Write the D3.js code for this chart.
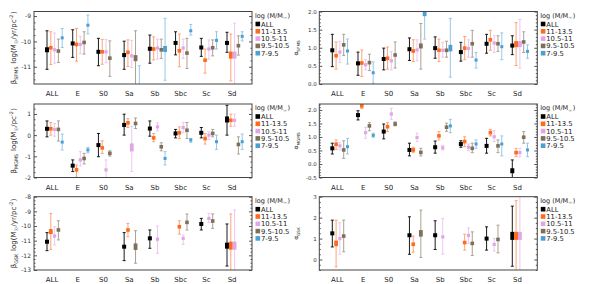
<!DOCTYPE html>
<html>
<head>
<meta charset="utf-8">
<script src="https://cdn.jsdelivr.net/npm/d3@7"></script>
<style>
  body { margin: 0; background: #fff; }
  svg { font-family: "DejaVu Sans", sans-serif; }
</style>
</head>
<body>
<svg id="chart" width="589" height="284"></svg>
<script>
// ── data ─────────────────────────────────────────────────────────────────────
const categories  = ["ALL", "E", "S0", "Sa", "Sb", "Sbc", "Sc", "Sd"];
const seriesNames = ["ALL", "11-13.5", "10.5-11", "9.5-10.5", "7-9.5"];

// each cell: [value, upper, lower] for series ALL, 11-13.5, 10.5-11, 9.5-10.5, 7-9.5
const betaSFMS = [
  [[-10.33, -9.58, -11.10], [-10.25, -9.62, -10.91], [-10.33, -9.67, -10.86], [-10.38, -9.91, -10.83], [-9.86, -9.49, -10.24]],
  [[-10.08, -9.54, -10.63], [-10.12, -9.49, -10.78], [-10.12, -9.80, -10.48], [-10.04, -9.62, -10.50], [-9.36, -8.96, -9.70]],
  [[-10.41, -9.88, -10.96], [-10.41, -9.92, -10.90], [-10.41, -9.92, -10.84], [-10.66, -9.98, -11.38], null],
  [[-10.54, -9.99, -11.10], [-10.43, -9.94, -10.99], [-10.57, -9.96, -11.03], [-10.66, -9.58, -12.20], [-12.10, -10.96, -13.00]],
  [[-10.29, -9.75, -10.86], [-10.30, -9.82, -10.73], [-10.26, -9.91, -10.70], [-10.33, -9.91, -10.67], [-10.30, -9.09, -11.53]],
  [[-10.06, -9.62, -10.53], [-10.37, -9.71, -11.00], [-10.26, -9.91, -10.67], [-10.46, -9.88, -11.07], [-9.58, -9.33, -9.75]],
  [[-10.24, -9.88, -10.59], [-10.74, -10.30, -11.25], [-10.30, -9.94, -10.70], [-10.25, -9.94, -10.57], [-9.96, -9.62, -10.30]],
  [[-10.06, -9.64, -10.43], [-10.54, -9.71, -11.56], [-10.54, -9.28, -12.00], [-10.17, -9.78, -10.54], [-9.80, -9.62, -9.98]]
];

const alphaSFMS = [
  [[0.93, 1.37, 0.48], [0.78, 1.16, 0.41], [0.88, 1.18, 0.59], [1.08, 1.37, 0.79], [0.91, 1.24, 0.55]],
  [[0.57, 0.88, 0.24], [0.58, 0.94, 0.21], [0.53, 0.67, 0.39], [0.59, 0.82, 0.37], [0.31, 0.61, 0.02]],
  [[0.69, 0.99, 0.39], [0.71, 1.02, 0.41], [0.64, 0.90, 0.39], [0.80, 1.16, 0.44], null],
  [[0.96, 1.27, 0.65], [0.91, 1.22, 0.62], [0.94, 1.22, 0.64], [1.05, 1.67, 0.41], [1.94, 2.20, 1.24]],
  [[0.99, 1.30, 0.71], [0.93, 1.24, 0.62], [0.93, 1.15, 0.74], [0.93, 1.18, 0.74], [0.99, 1.81, 0.19]],
  [[0.88, 1.15, 0.63], [0.99, 1.31, 0.67], [0.98, 1.22, 0.74], [1.11, 1.48, 0.74], [0.66, 0.87, 0.44]],
  [[1.11, 1.37, 0.85], [1.22, 1.48, 0.93], [1.13, 1.33, 0.87], [1.11, 1.33, 0.90], [1.03, 1.41, 0.67]],
  [[1.06, 1.33, 0.81], [1.10, 1.69, 0.51], [1.10, 1.78, 0.44], [1.16, 1.44, 0.87], [0.90, 1.08, 0.71]]
];

const betaMGMS = [
  [[0.30, 0.67, -0.08], [0.30, 0.60, 0.00], [0.27, 0.55, -0.05], [0.27, 0.67, -0.28], [-0.33, 0.05, -0.70]],
  [[-1.44, -1.17, -1.72], [-1.64, -1.41, -1.99], [-1.17, -0.78, -1.46], [-1.10, -0.86, -1.36], [-0.70, -0.58, -0.83]],
  [[-0.47, 0.08, -1.02], [-0.60, -0.27, -0.86], [-1.64, -1.17, -2.10], [-0.86, -0.74, -0.99], null],
  [[0.48, 0.99, 0.00], [0.58, 0.78, 0.36], [-0.58, 0.42, -1.72], [0.55, 0.81, 0.31], null],
  [[0.31, 0.67, -0.05], [-0.13, 0.08, -0.31], [0.39, 0.58, 0.20], [-0.55, -0.36, -0.74], [-1.10, -0.78, -1.41]],
  [[0.08, 0.27, -0.13], [0.11, 0.39, -0.16], [0.36, 0.60, 0.11], [0.23, 0.60, -0.16], [-0.23, -0.16, -0.34]],
  [[0.11, 0.36, -0.13], [-0.16, 0.08, -0.42], [0.00, 0.16, -0.20], [0.08, 0.27, -0.08], [-0.31, 0.00, -0.67]],
  [[0.74, 1.41, 0.00], [0.70, 0.99, 0.42], [0.70, 0.99, 0.42], [-0.44, -0.08, -0.89], [-0.31, 0.05, -0.67]]
];

const alphaMGMS = [
  [[0.58, 0.77, 0.37], [0.73, 0.89, 0.54], [0.67, 0.79, 0.52], [0.52, 0.86, 0.21], [0.64, 0.95, 0.37]],
  [[1.81, 1.97, 1.63], [2.15, 2.22, 2.05], [1.16, 1.36, 0.95], [1.41, 1.53, 1.23], [1.06, 1.14, 0.99]],
  [[1.20, 1.48, 0.93], [1.38, 1.53, 1.20], [1.85, 2.06, 1.65], [1.48, 1.56, 1.41], null],
  [[0.52, 0.77, 0.30], [0.52, 0.62, 0.42], [0.98, 1.14, 0.83], [0.43, 0.58, 0.30], null],
  [[0.62, 0.85, 0.40], [1.04, 1.20, 0.89], [0.60, 0.69, 0.52], [1.36, 1.51, 1.21], [1.41, 1.65, 1.16]],
  [[0.74, 0.86, 0.62], [0.83, 1.01, 0.64], [0.62, 0.74, 0.49], [0.58, 0.77, 0.42], [0.74, 0.89, 0.58]],
  [[0.67, 0.95, 0.40], [1.16, 1.28, 1.04], [1.01, 1.23, 0.83], [0.67, 0.89, 0.42], [0.74, 1.04, 0.30]],
  [[-0.25, 0.15, -0.60], [0.42, 0.58, 0.27], [0.42, 0.58, 0.27], [0.99, 1.20, 0.77], [0.52, 0.77, 0.27]]
];

const betaGSK = [
  [[-11.07, -10.45, -11.68], [-10.38, -9.14, -11.59], [-10.68, -10.05, -11.29], [-10.27, -9.64, -10.95], null],
  [null, null, null, null, null],
  [null, null, null, null, null],
  [[-11.41, -10.45, -12.36], [-10.27, -9.82, -10.73], null, [-11.41, -10.32, -12.54], null],
  [[-10.84, -10.27, -11.52], null, [-10.90, -10.00, -11.86], null, null],
  [null, [-10.05, -9.64, -10.55], [-10.84, -10.61, -11.25], [-9.75, -9.18, -10.27], null],
  [[-9.86, -9.48, -10.27], null, [-9.48, -9.14, -9.77], [-9.66, -9.18, -10.16], null],
  [[-11.34, -9.86, -12.73], [-11.34, -9.18, -13.30], [-11.34, -8.90, -13.30], null, null]
];

const alphaGSK = [
  [[1.25, 1.88, 0.60], [0.77, 1.88, -0.35], [1.00, 1.76, 0.25], [1.12, 1.88, 0.37], null],
  [null, null, null, null, null],
  [null, null, null, null, null],
  [[1.16, 2.04, 0.25], [0.73, 1.12, 0.35], null, [1.25, 2.36, 0.10], null],
  [[1.16, 1.85, 0.48], null, [1.08, 1.96, 0.25], null, null],
  [null, [0.81, 1.21, 0.45], [1.15, 1.51, 0.77], [0.77, 1.32, 0.19], null],
  [[1.00, 1.56, 0.45], null, [0.72, 1.00, 0.41], [0.96, 1.64, 0.32], null],
  [[1.13, 2.55, -0.32], [1.13, 2.81, -0.60], [1.13, 3.20, -0.60], null, null]
];

// ── style ────────────────────────────────────────────────────────────────────
const markColors = ["#000000", "#ff6a1c", "#e2a6e6", "#7d6f5c", "#4a9fd4"];
const barColors  = ["#000000", "#ffa476", "#ecc7ef", "#aaa194", "#96c8e8"];
const markW      = [4, 3.6, 3.2, 3.6, 3];
// taller boxes for the larger samples
const tallMarks = {
  betaSFMS:  { "ALL|0": 5, "Sa|3": 6, "Sb|4": 6, "Sd|1": 7, "Sd|2": 7 },
  alphaSFMS: { "Sa|3": 5, "Sa|4": 5, "Sb|4": 6.5, "Sd|1": 6, "Sd|2": 6 },
  betaMGMS:  { "Sa|2": 8, "Sd|0": 6 },
  alphaMGMS: { "Sd|0": 5 },
  betaGSK:   { "ALL|1": 5, "Sa|3": 6.5, "Sd|0": 6, "Sd|1": 8, "Sd|2": 8 },
  alphaGSK:  { "ALL|1": 5.5, "Sa|3": 6.5, "Sd|0": 8, "Sd|1": 8, "Sd|2": 8 }
};

const svg     = d3.select("#chart");
const colLeft = [34, 319.3];
const frameW  = 218;
const rowsY   = [[11.5, 84], [104, 177.5], [196.7, 270]];

const fix1 = d => d.toFixed(1).replace("\u2212", "-");
const int  = d => String(d);

const panels = [
  { id: "betaSFMS",  data: betaSFMS,  col: 0, row: 0, domain: [-11.68, -8.82], major: [-11, -10, -9],  minor: 0.25, fmt: int,
    label: [["β"], ["SFMS", "sub"], [" log(M"], ["☉", "sub"], ["/yr/pc"], ["-2", "sup"], [")"]] },
  { id: "alphaSFMS", data: alphaSFMS, col: 1, row: 0, domain: [0, 2],          major: [0, 0.5, 1, 1.5, 2], minor: 0.1, fmt: fix1,
    label: [["α"], ["SFMS", "sub"]] },
  { id: "betaMGMS",  data: betaMGMS,  col: 0, row: 1, domain: [-2, 1.47],      major: [-2, -1, 0, 1],  minor: 0.25, fmt: int,
    label: [["β"], ["MGMS", "sub"], [" log(M"], ["☉", "sub"], ["/pc"], ["-2", "sup"], [")"]] },
  { id: "alphaMGMS", data: alphaMGMS, col: 1, row: 1, domain: [-0.5, 2.22],    major: [-0.5, 0, 0.5, 1, 1.5, 2], minor: 0.1, fmt: fix1,
    label: [["α"], ["MGMS", "sub"]] },
  { id: "betaGSK",   data: betaGSK,   col: 0, row: 2, domain: [-13, -8],       major: [-13, -12, -11, -10, -9, -8], minor: 0.25, fmt: int,
    label: [["β"], ["GSK", "sub"], [" log(M"], ["☉", "sub"], ["/yr/pc"], ["-2", "sup"], [")"]] },
  { id: "alphaGSK",  data: alphaGSK,  col: 1, row: 2, domain: [-0.5, 3],       major: [0, 1, 2, 3], minor: 0.25, fmt: int,
    label: [["α"], ["GSK", "sub"]] }
];

const x  = d3.scalePoint().domain(categories).range([20.6, 200.6]);
const xs = d3.scalePoint().domain(d3.range(seriesNames.length)).range([-7.6, 7.6]);

function richText(sel, parts, size) {
  parts.forEach(([t, kind]) => {
    const ts = sel.append("tspan").text(t);
    if (kind === "sub") ts.attr("font-size", size * 0.7).attr("dy", size * 0.25);
    if (kind === "sup") ts.attr("font-size", size * 0.7).attr("dy", -size * 0.45);
    if (kind) sel.append("tspan").attr("font-size", size * 0.7).attr("dy", kind === "sub" ? -size * 0.25 : size * 0.45).text("\u200a");
  });
}

panels.forEach(p => {
  const [top, bottom] = rowsY[p.row];
  const left = colLeft[p.col];
  const h = bottom - top;
  const g = svg.append("g").attr("transform", `translate(${left},${top})`);
  const y = d3.scaleLinear().domain(p.domain).range([h, 0]);

  // ticks, inward on both sides
  const minorVals = d3.range(Math.ceil(p.domain[0] / p.minor) * p.minor, p.domain[1] + 1e-9, p.minor)
    .filter(v => !p.major.some(m => Math.abs(m - v) < 1e-6));
  const styleAxis = a => { a.select(".domain").remove(); a.selectAll("line").attr("stroke", "#555"); };
  g.append("g").call(d3.axisLeft(y).tickValues(minorVals).tickSize(-1.5).tickFormat("")).call(styleAxis);
  g.append("g").attr("transform", `translate(${frameW},0)`).call(d3.axisRight(y).tickValues(minorVals).tickSize(-1.5).tickFormat("")).call(styleAxis);
  g.append("g").attr("transform", `translate(${frameW},0)`).call(d3.axisRight(y).tickValues(p.major).tickSize(-3).tickFormat("")).call(styleAxis);
  g.append("g").call(d3.axisLeft(y).tickValues(p.major).tickSize(-3).tickPadding(p.col ? 2.5 : 3).tickFormat(p.fmt))
    .call(styleAxis)
    .call(a => a.selectAll("text").attr("font-size", p.col ? 5.5 : 6).attr("font-family", "DejaVu Sans").attr("fill", "#333"));

  // category labels
  g.append("g").selectAll("text").data(categories).join("text")
    .attr("x", d => x(d) - 2.5).attr("y", h + 12).attr("text-anchor", "middle")
    .attr("font-size", 7).attr("fill", "#222").text(d => d);

  // marks, clipped to the frame
  const clipId = "clip-" + p.id;
  g.append("clipPath").attr("id", clipId).append("rect").attr("width", frameW).attr("height", h);
  const marks = g.append("g").attr("clip-path", `url(#${clipId})`);
  const points = [];
  p.data.forEach((row, ci) => row.forEach((d, si) => {
    if (d) points.push({ cat: categories[ci], s: si, v: d[0], hi: d[1], lo: d[2] });
  }));
  // draw coloured series first, black on top
  points.sort((a, b) => (b.s === 0) - (a.s === 0) || a.s - b.s);

  const px = d => x(d.cat) + xs(d.s);
  const bars = marks.selectAll("g.err").data(points).join("g").attr("class", "err")
    .attr("stroke", d => barColors[d.s]).attr("stroke-width", d => d.s === 0 ? 0.9 : 1);
  bars.append("line").attr("x1", px).attr("x2", px).attr("y1", d => y(d.hi)).attr("y2", d => y(d.lo));
  bars.append("line").attr("x1", d => px(d) - 1.5).attr("x2", d => px(d) + 1.5).attr("y1", d => y(d.hi)).attr("y2", d => y(d.hi));
  bars.append("line").attr("x1", d => px(d) - 1.5).attr("x2", d => px(d) + 1.5).attr("y1", d => y(d.lo)).attr("y2", d => y(d.lo));

  const tall = tallMarks[p.id];
  marks.selectAll("rect.mark").data(points).join("rect").attr("class", "mark")
    .each(function (d) {
      const hh = tall[d.cat + "|" + d.s];
      const w = hh ? Math.max(markW[d.s], 3.8) : markW[d.s];
      const hgt = hh || markW[d.s];
      d3.select(this).attr("x", px(d) - w / 2).attr("y", y(d.v) - hgt / 2).attr("width", w).attr("height", hgt);
    })
    .attr("fill", d => markColors[d.s]);

  // frame
  g.append("rect").attr("width", frameW).attr("height", h).attr("fill", "none").attr("stroke", "#444").attr("stroke-width", 1);

  // y label
  const lx = p.col ? -21 : -18;
  const lt = g.append("text").attr("transform", `translate(${lx},${h / 2}) rotate(-90)`)
    .attr("text-anchor", "middle").attr("font-size", p.col ? 6 : 7).attr("fill", "#222");
  richText(lt, p.label, p.col ? 6 : 7);

  // legend
  const lg = g.append("g").attr("transform", `translate(${frameW + 3},0)`);
  const title = lg.append("text").attr("x", 0).attr("y", 6).attr("font-size", 6.5).attr("fill", "#222");
  richText(title, [["log (M/M"], ["☉", "sub"], [")"]], 6.5);
  seriesNames.forEach((name, i) => {
    const cy = 12.5 + i * 7.3;
    lg.append("rect").attr("x", 0.5).attr("y", cy - 2.3).attr("width", 4.6).attr("height", 4.6).attr("fill", markColors[i]);
    lg.append("text").attr("x", 6).attr("y", cy + 2.5).attr("font-size", 6.8).attr("fill", "#222").text(name);
  });
});
</script>
</body>
</html>
